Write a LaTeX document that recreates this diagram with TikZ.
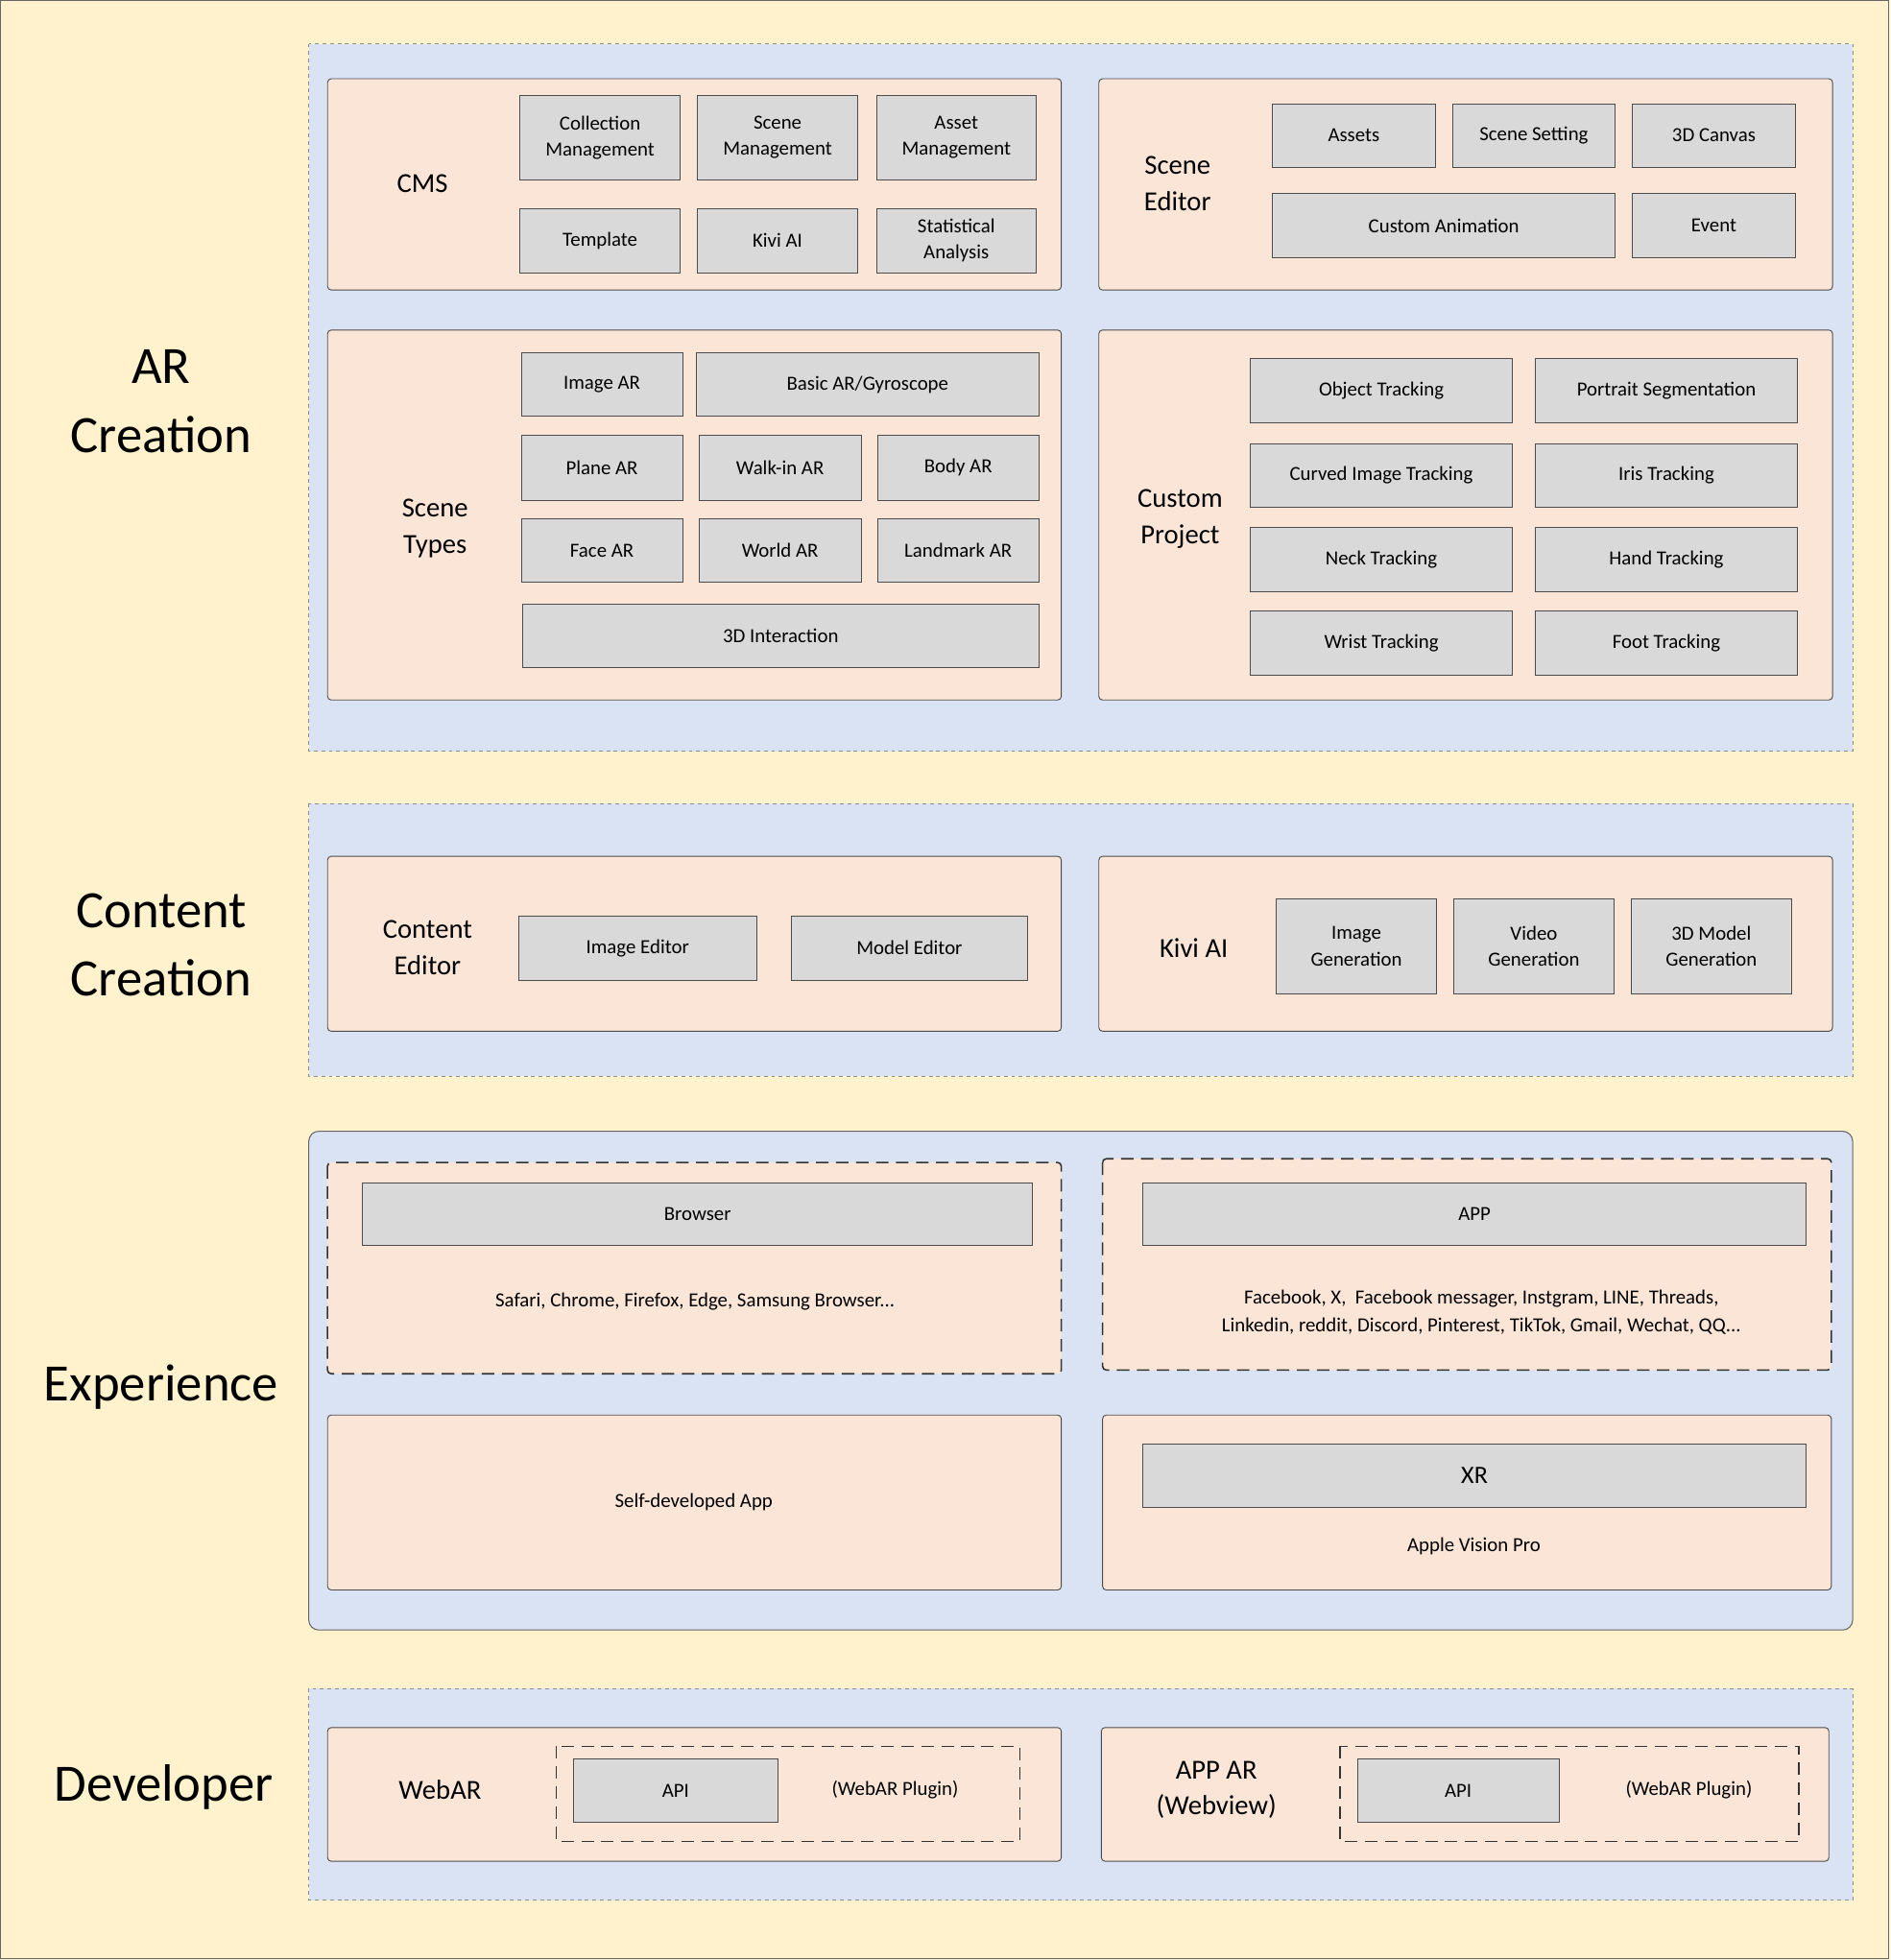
\documentclass[tikz,border=0pt]{standalone}
\usepackage{fontspec}
\setmainfont{Carlito}
\definecolor{bgy}{HTML}{FFF2CC}
\definecolor{bpan}{HTML}{DAE3F3}
\definecolor{peach}{HTML}{FBE5D6}
\definecolor{gry}{HTML}{D9D9D9}
\begin{document}
\begin{tikzpicture}[x=1pt,y=-1pt,
  gbox/.style={draw=black!70,fill=gry,line width=0.6pt,align=center,font=\fontsize{16}{21}\selectfont,inner sep=0pt},
  pan/.style={draw=black!70,fill=peach,rounded corners=3pt,line width=0.7pt},
  dpan/.style={draw=black!80,fill=peach,rounded corners=3pt,line width=1.2pt,dash pattern=on 10pt off 6pt},
  blu/.style={draw=black!45,fill=bpan,dashed,line width=0.5pt},
  big/.style={align=center,font=\fontsize{42}{55}\selectfont},
  mid/.style={align=center,font=\fontsize{22}{29}\selectfont},
  txt/.style={align=center,font=\fontsize{16}{22}\selectfont}]
\newcommand\bx[6]{\node[gbox,minimum width={(#4-#2)*1pt},minimum height={(#5-#3)*1pt}] (#1) at ({(#2+#4)/2},{(#3+#5)/2}) {#6};}
\fill[bgy] (0,0) rectangle (1512,1568);
\draw[black!60,line width=1pt] (0.5,0.5) rectangle (1511,1567);
% AR creation
\draw[blu] (247,35) rectangle (1482,601);
\draw[pan] (262,63) rectangle (849,232);
\node[mid] (cms) at (338,147) {CMS};
\bx{cm}{416}{76}{544}{144}{Collection\\Management}
\bx{sm}{558}{76}{686}{144}{Scene\\Management}
\bx{am}{701}{76}{829}{144}{Asset\\Management}
\bx{tp}{416}{167}{544}{218}{Template}
\bx{ka}{558}{167}{686}{218}{Kivi AI}
\bx{sa}{701}{167}{829}{218}{Statistical\\Analysis}
\draw[pan] (879,63) rectangle (1466,232);
\node[mid] (se) at (942,147) {Scene\\Editor};
\bx{as}{1018}{83}{1148}{134}{Assets}
\bx{ss}{1162}{83}{1292}{134}{Scene Setting}
\bx{dc}{1306}{83}{1436}{134}{3D Canvas}
\bx{ca}{1018}{155}{1292}{206}{Custom Animation}
\bx{ev}{1306}{155}{1436}{206}{Event}
\draw[pan] (262,264) rectangle (849,560);
\node[mid] (st) at (348,423) {Scene\\Types};
\bx{iar}{417}{282}{546}{333}{Image AR}
\bx{bar}{557}{282}{831}{333}{Basic AR/Gyroscope}
\bx{par}{417}{348}{546}{400}{Plane AR}
\bx{war}{559}{348}{689}{400}{Walk-in AR}
\bx{boar}{702}{348}{831}{400}{Body AR}
\bx{far}{417}{415}{546}{466}{Face AR}
\bx{wor}{559}{415}{689}{466}{World AR}
\bx{lar}{702}{415}{831}{466}{Landmark AR}
\bx{di}{418}{483}{831}{534}{3D Interaction}
\draw[pan] (879,264) rectangle (1466,560);
\node[mid] (cp) at (944,415) {Custom\\Project};
\bx{ot}{1000}{287}{1210}{338}{Object Tracking}
\bx{ps}{1228}{287}{1438}{338}{Portrait Segmentation}
\bx{ci}{1000}{355}{1210}{406}{Curved Image Tracking}
\bx{it}{1228}{355}{1438}{406}{Iris Tracking}
\bx{nt}{1000}{422}{1210}{473}{Neck Tracking}
\bx{ht}{1228}{422}{1438}{473}{Hand Tracking}
\bx{wt}{1000}{489}{1210}{540}{Wrist Tracking}
\bx{ft}{1228}{489}{1438}{540}{Foot Tracking}
\node[big] (arc) at (129,321) {AR\\Creation};
% Content creation
\draw[blu] (247,643) rectangle (1482,861);
\draw[pan] (262,685) rectangle (849,825);
\node[mid] (ce) at (342,758) {Content\\Editor};
\bx{ie}{415}{733}{605}{784}{Image Editor}
\bx{me}{633}{733}{822}{784}{Model Editor}
\draw[pan] (879,685) rectangle (1466,825);
\node[mid] (kai) at (955,758) {Kivi AI};
\bx{ig}{1021}{719}{1149}{795}{Image\\Generation}
\bx{vg}{1163}{719}{1291}{795}{Video\\Generation}
\bx{mg}{1305}{719}{1433}{795}{3D Model\\Generation}
\node[big] (cc) at (129,756) {Content\\Creation};
% Experience
\draw[draw=black!60,fill=bpan,rounded corners=8pt,line width=0.8pt] (247,905) rectangle (1482,1304);
\draw[dpan] (262,930) rectangle (849,1099);
\bx{br}{290}{946}{826}{996}{Browser}
\node[txt] (brt) at (556,1041) {Safari, Chrome, Firefox, Edge, Samsung Browser...};
\draw[dpan] (882,927) rectangle (1465,1096);
\bx{app}{914}{946}{1445}{996}{APP}
\node[txt] (appt) at (1185,1050) {Facebook, X,\ \ Facebook messager, Instgram, LINE, Threads,\\Linkedin, reddit, Discord, Pinterest, TikTok, Gmail, Wechat, QQ...};
\draw[pan] (262,1132) rectangle (849,1272);
\node[txt] (sda) at (555,1202) {Self-developed App};
\draw[pan] (882,1132) rectangle (1465,1272);
\node[gbox,minimum width=531pt,minimum height=51pt,font=\fontsize{20}{24}\selectfont] (xr) at (1179.5,1180.5) {XR};
\node[txt] (avp) at (1179,1237) {Apple Vision Pro};
\node[big] (exp) at (129,1110) {Experience};
% Developer
\draw[blu] (247,1351) rectangle (1482,1520);
\draw[pan] (262,1382) rectangle (849,1489);
\node[mid] (war2) at (352,1432) {WebAR};
\draw[black!80,line width=1.2pt,dash pattern=on 10pt off 6pt] (445,1397) rectangle (816,1473);
\bx{api1}{459}{1407}{622}{1458}{API}
\node[txt] (wp1) at (716,1432) {(WebAR Plugin)};
\draw[pan] (881,1382) rectangle (1463,1489);
\node[mid] (aar) at (973,1432) {APP AR\\(Webview)};
\draw[black!80,line width=1.2pt,dash pattern=on 10pt off 6pt] (1072,1397) rectangle (1439,1473);
\bx{api2}{1086}{1407}{1247}{1458}{API}
\node[txt] (wp2) at (1351,1432) {(WebAR Plugin)};
\node[big] (dev) at (131,1430) {Developer};
\end{tikzpicture}
\end{document}
